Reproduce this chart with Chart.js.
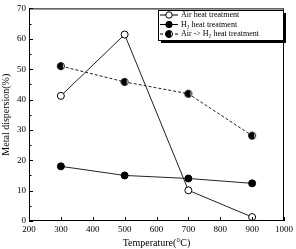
<!DOCTYPE html>
<html>
<head>
<meta charset="utf-8">
<script src="https://cdn.jsdelivr.net/npm/chart.js@4.4.1/dist/chart.umd.min.js"></script>
<style>
  html, body { margin: 0; padding: 0; background: #fff; }
  #wrap { width: 296px; height: 249px; position: relative; }
</style>
</head>
<body>
<div id="wrap"><canvas id="chart"></canvas></div>
<script>
const temps = [300, 500, 700, 900];
const airValues = [41.2, 61.4, 10.1, 1.3];
const h2Values = [18, 15, 14, 12.4];
const airH2Values = [51, 45.8, 41.9, 28.1];
const seriesLabels = ["Air heat treatment", "H\u2082 heat treatment", "Air -> H\u2082 heat treatment"];
const xTitle = "Temperature(\u00B0C)";
const yTitle = "Metal dispersion(%)";

// half filled marker
function halfMarker(r) {
  const c = document.createElement("canvas");
  const s = r * 2 + 3;
  c.width = s; c.height = s;
  const g = c.getContext("2d");
  const m = s / 2;
  g.beginPath(); g.arc(m, m, r, 0, Math.PI * 2); g.fillStyle = "#fff"; g.fill();
  g.beginPath(); g.arc(m, m, r, Math.PI * 0.3, Math.PI * 1.7); g.closePath(); g.fillStyle = "#000"; g.fill();
  g.beginPath(); g.arc(m, m, r, 0, Math.PI * 2); g.lineWidth = 1; g.strokeStyle = "#000"; g.stroke();
  return c;
}
const halfPt = halfMarker(3.5);

const inwardTicks = {
  id: "inwardTicks",
  afterDraw(chart) {
    const ctx = chart.ctx;
    const a = chart.chartArea;
    const xs = chart.scales.x, ys = chart.scales.y;
    ctx.save();
    ctx.strokeStyle = "#000";
    ctx.lineWidth = 1;
    ctx.strokeRect(a.left + 0.5, a.top + 0.5, a.right - a.left - 1, a.bottom - a.top - 1);
    ctx.beginPath();
    xs.ticks.forEach(t => {
      const px = Math.round(xs.getPixelForValue(t.value)) + 0.5;
      ctx.moveTo(px, a.bottom); ctx.lineTo(px, a.bottom - 4);
    });
    ys.ticks.forEach(t => {
      const py = Math.round(ys.getPixelForValue(t.value)) + 0.5;
      const len = t.value % 10 === 0 ? 4 : 2.5;
      ctx.moveTo(a.left, py); ctx.lineTo(a.left + len, py);
    });
    ctx.stroke();

    // legend box
    const bx = 158, by = 10, bw = 125, bh = 30;
    ctx.fillStyle = "#000";
    ctx.fillRect(bx + 3, by + 3, bw, bh);
    ctx.fillStyle = "#fff";
    ctx.fillRect(bx, by, bw, bh);
    ctx.strokeRect(bx + 0.5, by + 0.5, bw, bh);
    ctx.font = "8px 'Liberation Serif', serif";
    ctx.textBaseline = "middle";
    chart.data.datasets.forEach((ds, i) => {
      const yy = by + 5 + i * 9.5;
      ctx.beginPath();
      ctx.setLineDash(ds.borderDash || []);
      ctx.moveTo(bx + 2, yy); ctx.lineTo(bx + 20, yy);
      ctx.strokeStyle = "#000";
      ctx.stroke();
      ctx.setLineDash([]);
      const mx = bx + 11;
      if (ds.pointStyle === "circle") {
        ctx.beginPath(); ctx.arc(mx, yy, 3.2, 0, Math.PI * 2);
        ctx.fillStyle = ds.pointBackgroundColor; ctx.fill(); ctx.stroke();
      } else {
        ctx.drawImage(ds.pointStyle, mx - ds.pointStyle.width / 2, yy - ds.pointStyle.height / 2);
      }
      ctx.fillStyle = "#000";
      ctx.fillText(ds.label, bx + 23, yy);
    });
    ctx.restore();
  }
};

new Chart(document.getElementById("chart"), {
  type: "line",
  data: {
    datasets: [
      {
        label: seriesLabels[0],
        data: temps.map((t, i) => ({ x: t, y: airValues[i] })),
        borderColor: "#222",
        borderWidth: 1,
        pointStyle: "circle",
        pointRadius: 3.5,
        pointBackgroundColor: "#fff",
        pointBorderColor: "#000",
        pointBorderWidth: 1
      },
      {
        label: seriesLabels[1],
        data: temps.map((t, i) => ({ x: t, y: h2Values[i] })),
        borderColor: "#222",
        borderWidth: 1,
        pointStyle: "circle",
        pointRadius: 3.5,
        pointBackgroundColor: "#000",
        pointBorderColor: "#000",
        pointBorderWidth: 1
      },
      {
        label: seriesLabels[2],
        data: temps.map((t, i) => ({ x: t, y: airH2Values[i] })),
        borderColor: "#222",
        borderWidth: 1,
        borderDash: [3, 2],
        pointStyle: halfPt,
        pointRadius: 3.5
      }
    ]
  },
  options: {
    responsive: true,
    maintainAspectRatio: false,
    animation: false,
    layout: { padding: { top: 6, right: 10, left: 0, bottom: 0 } },
    plugins: { legend: { display: false }, tooltip: { enabled: false } },
    scales: {
      x: {
        type: "linear",
        min: 200, max: 1000,
        afterFit: s => { s.height = 28; },
        grid: { display: false, drawTicks: false },
        border: { display: false },
        ticks: {
          stepSize: 100, color: "#000", padding: 3, maxRotation: 0,
          font: { family: "'Liberation Serif', serif", size: 9 },
          callback: v => String(v)
        },
        title: { display: true, text: xTitle, color: "#000", padding: { top: 2, bottom: 0 }, font: { family: "'Liberation Serif', serif", size: 10 } }
      },
      y: {
        min: 0, max: 70,
        afterFit: s => { s.width = 29; },
        grid: { display: false, drawTicks: false },
        border: { display: false },
        ticks: {
          stepSize: 5, color: "#000", padding: 3, autoSkip: false,
          font: { family: "'Liberation Serif', serif", size: 9 },
          callback: v => (v % 10 === 0 ? v : "")
        },
        title: { display: true, text: yTitle, color: "#000", padding: 0, font: { family: "'Liberation Serif', serif", size: 10 } }
      }
    }
  },
  plugins: [inwardTicks]
});
</script>
</body>
</html>
